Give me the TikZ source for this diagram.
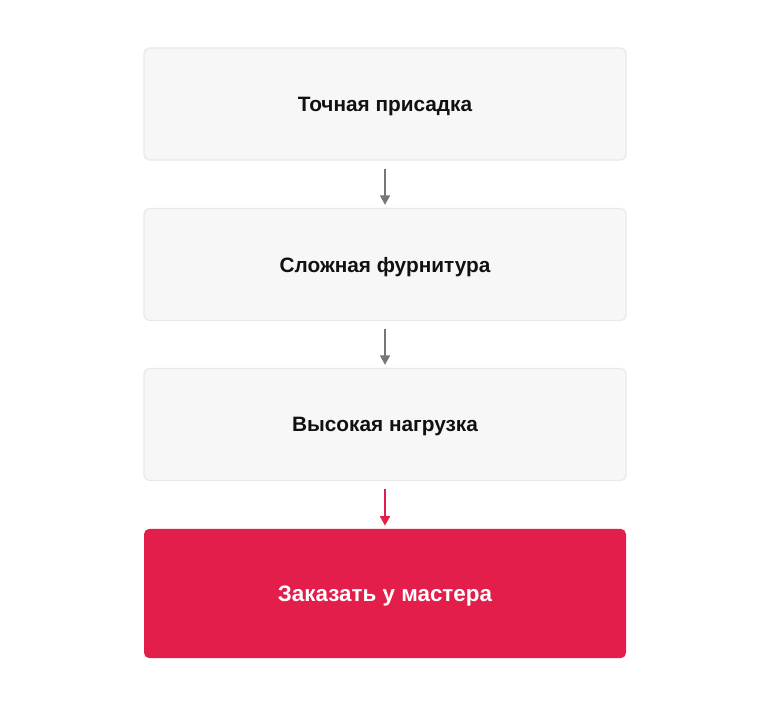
\documentclass[tikz,border=0pt]{standalone}
\usepackage{fontspec}
\setmainfont{Liberation Sans}
\usetikzlibrary{arrows.meta}
\definecolor{boxfill}{HTML}{F7F7F7}
\definecolor{boxline}{HTML}{EAEAEA}
\definecolor{ordered}{HTML}{E31E4A}
\definecolor{arrowgray}{HTML}{777777}
\definecolor{textdark}{HTML}{111111}
\tikzset{
    stagebox/.style={draw=boxline, line width=1.1pt, fill=boxfill, rounded corners=4pt,
        minimum width=361.5pt, minimum height=84pt, inner sep=0pt, text depth=0pt,
        font=\bfseries\fontsize{15.6pt}{18pt}\selectfont, text=textdark},
    orderbox/.style={fill=ordered, rounded corners=4pt,
        minimum width=361.5pt, minimum height=97pt, inner sep=0pt, text depth=0pt,
        font=\bfseries\fontsize{16.8pt}{20pt}\selectfont, text=white},
    flowarrow/.style={draw=arrowgray, line width=1.1pt, -{Triangle[width=7.5pt,length=7pt]},
        shorten <=6pt, shorten >=2.25pt},
}
\begin{document}
\begin{tikzpicture}[x=0.75pt,y=-0.75pt]
                \useasboundingbox (0,0) rectangle (770,706);

                \node[stagebox] (precise) at (385,104) {Точная присадка};
                \node[stagebox] (fittings) at (385,264.5) {Сложная фурнитура};
                \node[stagebox] (load) at (385,424.5) {Высокая нагрузка};
                \node[orderbox] (order) at (385,593.5) {Заказать у мастера};

                \draw[flowarrow] (precise) -- (fittings);
                \draw[flowarrow] (fittings) -- (load);
                \draw[flowarrow, draw=ordered] (load) -- (order);
                
\end{tikzpicture}
\end{document}
